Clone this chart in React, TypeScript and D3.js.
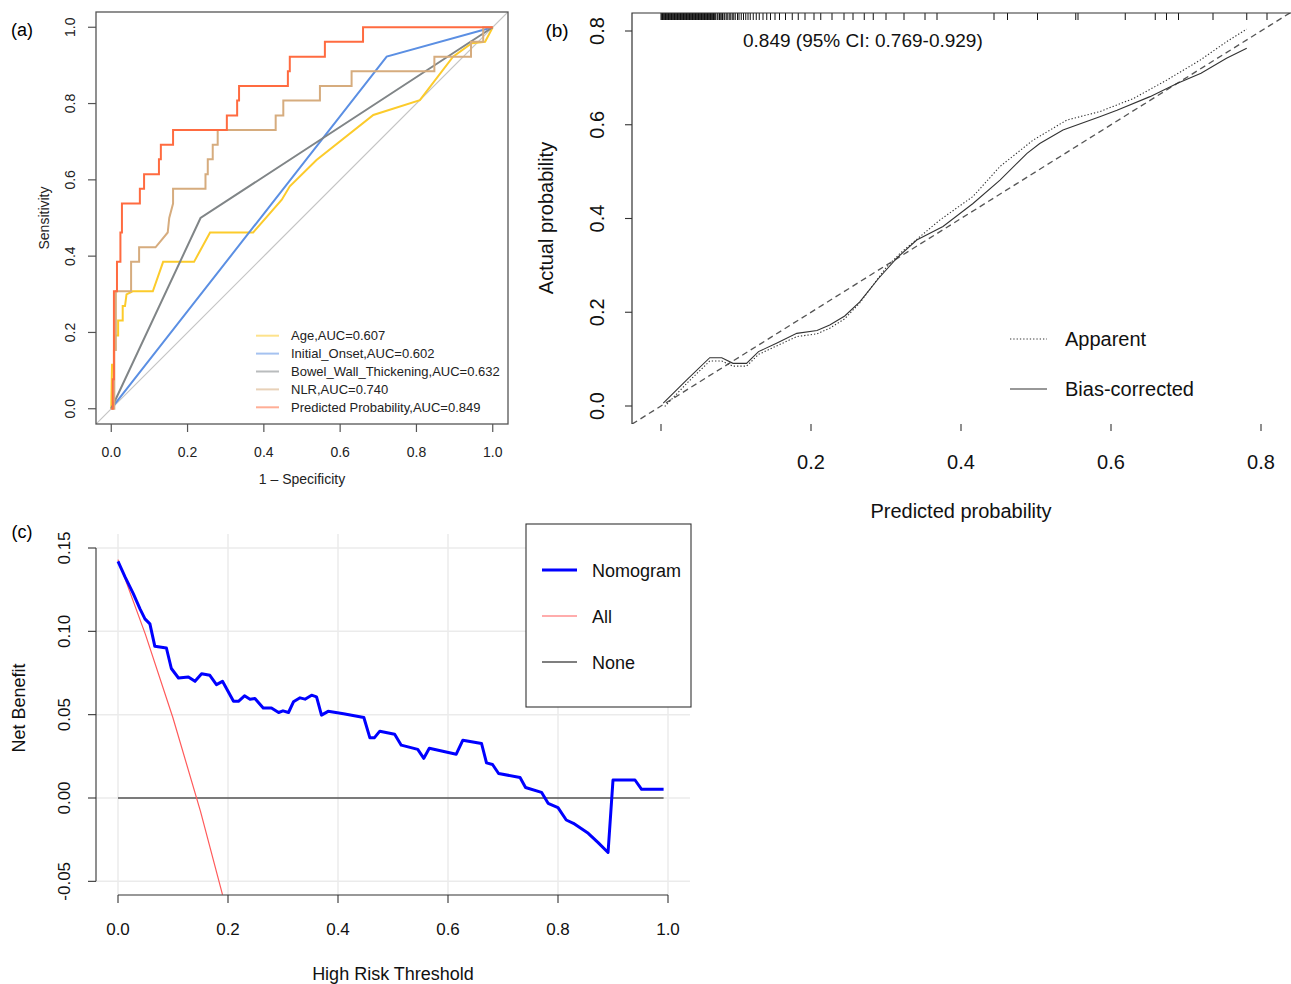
import React from "react";
import * as d3 from "d3";

const FONT = "'Liberation Sans', Arial, Helvetica, sans-serif";

// ---------- (a) ROC curves: [1 - specificity, sensitivity] ----------
const rocAge: [number, number][] = [
  [0, 0], [0.002, 0.115], [0.007, 0.115], [0.007, 0.154], [0.01, 0.192], [0.018, 0.192],
  [0.018, 0.231], [0.03, 0.231], [0.03, 0.269], [0.036, 0.269], [0.04, 0.3], [0.056, 0.308],
  [0.109, 0.308], [0.136, 0.385], [0.217, 0.385], [0.259, 0.462], [0.372, 0.462],
  [0.447, 0.548], [0.468, 0.583], [0.538, 0.652], [0.687, 0.77], [0.809, 0.809],
  [0.896, 0.923], [0.945, 0.958], [0.98, 0.962], [1, 1],
];
const rocOnset: [number, number][] = [[0, 0], [0.722, 0.923], [1, 1]];
const rocBowel: [number, number][] = [[0, 0], [0.234, 0.5], [1, 1]];
const rocNLR: [number, number][] = [
  [0, 0], [0.008, 0], [0.008, 0.154], [0.012, 0.154], [0.012, 0.308], [0.052, 0.308],
  [0.052, 0.385], [0.073, 0.385], [0.073, 0.423], [0.116, 0.423], [0.13, 0.44], [0.148, 0.462],
  [0.152, 0.5], [0.162, 0.538], [0.162, 0.577], [0.247, 0.577], [0.247, 0.615], [0.253, 0.615],
  [0.253, 0.654], [0.266, 0.654], [0.266, 0.692], [0.279, 0.692], [0.279, 0.731], [0.431, 0.731],
  [0.431, 0.769], [0.451, 0.769], [0.451, 0.808], [0.547, 0.808], [0.547, 0.846], [0.63, 0.846],
  [0.63, 0.885], [0.847, 0.885], [0.847, 0.923], [0.943, 0.923], [0.943, 0.962], [0.975, 0.962],
  [0.975, 1], [1, 1],
];
const rocPred: [number, number][] = [
  [0, 0], [0.004, 0], [0.004, 0.077], [0.007, 0.077], [0.007, 0.308], [0.015, 0.308],
  [0.015, 0.385], [0.024, 0.385], [0.024, 0.462], [0.028, 0.462], [0.028, 0.538], [0.075, 0.538],
  [0.075, 0.577], [0.086, 0.577], [0.086, 0.615], [0.125, 0.615], [0.125, 0.654], [0.13, 0.654],
  [0.13, 0.692], [0.162, 0.692], [0.162, 0.731], [0.303, 0.731], [0.303, 0.769], [0.33, 0.769],
  [0.33, 0.808], [0.335, 0.808], [0.335, 0.846], [0.463, 0.846], [0.463, 0.885], [0.468, 0.885],
  [0.468, 0.923], [0.56, 0.923], [0.56, 0.962], [0.66, 0.962], [0.66, 1], [1, 1],
];
const rocNames = [
  "Age,AUC=0.607",
  "Initial_Onset,AUC=0.602",
  "Bowel_Wall_Thickening,AUC=0.632",
  "NLR,AUC=0.740",
  "Predicted Probability,AUC=0.849",
];
const rocColors = ["#FCCB2B", "#5B8FE3", "#808587", "#D6AC7E", "#FF6B40"];
const rocCurves = [rocAge, rocOnset, rocBowel, rocNLR, rocPred];
const ticksA = [0, 0.2, 0.4, 0.6, 0.8, 1.0];

// ---------- (b) calibration ----------
const calApparent: [number, number][] = [
  [0.005, -0.001], [0.036, 0.051], [0.065, 0.096], [0.081, 0.096], [0.096, 0.085], [0.114, 0.085],
  [0.13, 0.11], [0.154, 0.128], [0.181, 0.148], [0.208, 0.154], [0.225, 0.166], [0.245, 0.186],
  [0.265, 0.22], [0.301, 0.297], [0.319, 0.326], [0.372, 0.397], [0.416, 0.447], [0.452, 0.511],
  [0.496, 0.567], [0.541, 0.61], [0.585, 0.628], [0.63, 0.656], [0.674, 0.695], [0.719, 0.738],
  [0.754, 0.777], [0.781, 0.804],
];
const calBias: [number, number][] = [
  [0.003, 0.006], [0.034, 0.055], [0.065, 0.103], [0.081, 0.103], [0.096, 0.091], [0.114, 0.091],
  [0.13, 0.116], [0.154, 0.134], [0.181, 0.155], [0.208, 0.161], [0.225, 0.173], [0.245, 0.192],
  [0.265, 0.222], [0.29, 0.272], [0.314, 0.315], [0.341, 0.354], [0.376, 0.383], [0.416, 0.432],
  [0.452, 0.482], [0.488, 0.539], [0.505, 0.56], [0.536, 0.589], [0.585, 0.617], [0.608, 0.631],
  [0.652, 0.66], [0.688, 0.688], [0.72, 0.71], [0.754, 0.742], [0.781, 0.763],
];
const rugValues = [
  0.0, 0.001, 0.002, 0.003, 0.004, 0.005, 0.006, 0.007, 0.008, 0.009, 0.010, 0.011, 0.012,
  0.013, 0.014, 0.015, 0.016, 0.017, 0.018, 0.019, 0.020, 0.021, 0.022, 0.023, 0.024, 0.025,
  0.026, 0.027, 0.028, 0.029, 0.030, 0.031, 0.032, 0.033, 0.034, 0.035, 0.036, 0.037, 0.038,
  0.039, 0.040, 0.041, 0.042, 0.043, 0.044, 0.045, 0.046, 0.047, 0.048, 0.049, 0.050, 0.051,
  0.052, 0.053, 0.054, 0.055, 0.056, 0.057, 0.058, 0.059, 0.060, 0.061, 0.062, 0.063, 0.064,
  0.065, 0.066, 0.067, 0.068, 0.069, 0.070, 0.071, 0.072, 0.073, 0.075, 0.076, 0.078, 0.079,
  0.081, 0.082, 0.084, 0.085, 0.087, 0.089, 0.091, 0.093, 0.095, 0.097, 0.099, 0.102, 0.104,
  0.107, 0.110, 0.113, 0.116, 0.119, 0.123, 0.127, 0.131, 0.136, 0.141, 0.146, 0.152, 0.158,
  0.166, 0.175, 0.183, 0.192, 0.204, 0.213, 0.228, 0.244, 0.256, 0.271, 0.283, 0.3, 0.324,
  0.352, 0.368, 0.444, 0.462, 0.502, 0.553, 0.556, 0.619, 0.659, 0.674, 0.69, 0.736, 0.781, 0.808,
];
const ticksBX = [0, 0.2, 0.4, 0.6, 0.8];
const ticksBY = [0, 0.2, 0.4, 0.6, 0.8];
const calText = "0.849 (95% CI: 0.769-0.929)";

// ---------- (c) decision curve ----------
const dcaNomogram: [number, number][] = [
  [0, 0.142], [0.013, 0.1325], [0.028, 0.1225], [0.04, 0.1135], [0.049, 0.1075], [0.058, 0.1045],
  [0.067, 0.091], [0.088, 0.09], [0.097, 0.0777], [0.11, 0.072], [0.128, 0.0726], [0.14, 0.07],
  [0.152, 0.0746], [0.167, 0.0736], [0.179, 0.068], [0.19, 0.07], [0.21, 0.058], [0.219, 0.058],
  [0.23, 0.0613], [0.24, 0.0593], [0.249, 0.0597], [0.264, 0.054], [0.279, 0.054], [0.292, 0.0513],
  [0.3, 0.0523], [0.31, 0.0513], [0.319, 0.0577], [0.331, 0.0601], [0.34, 0.0593], [0.352, 0.0617],
  [0.361, 0.0607], [0.37, 0.0497], [0.382, 0.052], [0.41, 0.0505], [0.447, 0.0483], [0.458, 0.0361],
  [0.466, 0.0361], [0.476, 0.0401], [0.503, 0.0383], [0.515, 0.0317], [0.545, 0.0292],
  [0.556, 0.0238], [0.566, 0.0298], [0.615, 0.0263], [0.627, 0.0347], [0.661, 0.0327],
  [0.67, 0.0211], [0.681, 0.0201], [0.692, 0.0147], [0.731, 0.0123], [0.741, 0.0063],
  [0.77, 0.0034], [0.782, -0.0032], [0.8, -0.0058], [0.815, -0.0132], [0.828, -0.0152],
  [0.855, -0.0212], [0.873, -0.0268], [0.891, -0.0327], [0.9, 0.0108], [0.94, 0.0108],
  [0.952, 0.0052], [0.992, 0.0052],
];
const dcaAll: [number, number][] = [
  [0, 0.143], [0.05, 0.098], [0.1, 0.048], [0.15, -0.008], [0.19, -0.058],
];
const dcaNone: [number, number][] = [[0, 0], [0.992, 0]];
const ticksCX = [0, 0.2, 0.4, 0.6, 0.8, 1.0];
const ticksCY = [-0.05, 0, 0.05, 0.1, 0.15];
const dcaLegend = ["Nomogram", "All", "None"];

export default function App() {
  // (a)
  const xA = d3.scaleLinear().domain([-0.04, 1.04]).range([96, 508]);
  const yA = d3.scaleLinear().domain([-0.04, 1.04]).range([424, 12]);
  const lineA = d3.line<[number, number]>().x((d) => xA(d[0])).y((d) => yA(d[1]));

  // (b)
  const xB = d3.scaleLinear().domain([0, 0.8]).range([661, 1261]);
  const yB = d3.scaleLinear().domain([0, 0.8]).range([406, 31]);
  const lineB = d3.line<[number, number]>().x((d) => xB(d[0])).y((d) => yB(d[1]));
  const bLeft = 632, bTop = 13, bBottom = 424;
  const diagB: [number, number][] = [
    [xB.invert(bLeft), xB.invert(bLeft)],
    [xB.invert(1300), xB.invert(1300)],
  ];

  // (c)
  const xC = d3.scaleLinear().domain([0, 1]).range([118, 668]);
  const yC = d3.scaleLinear().domain([0, 0.15]).range([798, 548]);
  const lineC = d3.line<[number, number]>().x((d) => xC(d[0])).y((d) => yC(d[1]));
  const cL = 96, cR = 690, cT = 534, cB = 895;

  const fmt1 = d3.format(".1f");
  const fmt2 = (v: number) => v.toFixed(2);

  return (
    <svg
      width={1291}
      height={984}
      style={{ position: "absolute", left: 0, top: 0, background: "#fff" }}
      fontFamily={FONT}
    >
      <defs>
        <clipPath id="clipA">
          <rect x={96} y={12} width={412} height={412} />
        </clipPath>
        <clipPath id="clipB">
          <rect x={bLeft} y={bTop} width={700} height={bBottom - bTop} />
        </clipPath>
        <clipPath id="clipC">
          <rect x={cL} y={cT} width={cR - cL} height={cB - cT} />
        </clipPath>
      </defs>
      <rect width={1291} height={984} fill="#fff" />

      {/* ===== (a) ===== */}
      <text x={22} y={36} fontSize={18} textAnchor="middle">(a)</text>
      <g clipPath="url(#clipA)">
        <path d={lineA([[-0.04, -0.04], [1.04, 1.04]]) || ""} stroke="#C4C4C4" strokeWidth={1.2} fill="none" />
        {rocCurves.map((c, i) => (
          <path key={i} d={lineA(c) || ""} stroke={rocColors[i]} strokeWidth={2} fill="none" />
        ))}
      </g>
      <rect x={96} y={12} width={412} height={412} fill="none" stroke="#555" strokeWidth={1.3} />
      {ticksA.map((t) => (
        <g key={"ax" + t}>
          <line x1={xA(t)} x2={xA(t)} y1={424} y2={432} stroke="#555" strokeWidth={1.2} />
          <text x={xA(t)} y={457} fontSize={14} textAnchor="middle" fill="#222">{fmt1(t)}</text>
          <line x1={88} x2={96} y1={yA(t)} y2={yA(t)} stroke="#555" strokeWidth={1.2} />
          <text transform={`translate(75,${yA(t)}) rotate(-90)`} fontSize={14} textAnchor="middle" fill="#222">
            {fmt1(t)}
          </text>
        </g>
      ))}
      <text x={302} y={484} fontSize={14} textAnchor="middle" fill="#222">1 – Specificity</text>
      <text transform="translate(49,218) rotate(-90)" fontSize={14} textAnchor="middle" fill="#222">Sensitivity</text>
      {rocNames.map((n, i) => {
        const y = 335.7 + i * 17.9;
        return (
          <g key={n}>
            <line x1={256} x2={279} y1={y} y2={y} stroke={rocColors[i]} strokeOpacity={0.55} strokeWidth={2} />
            <text x={291} y={y + 4.5} fontSize={13} fill="#222">{n}</text>
          </g>
        );
      })}

      {/* ===== (b) ===== */}
      <text x={557} y={37} fontSize={19} textAnchor="middle">(b)</text>
      <g clipPath="url(#clipB)">
        <path d={lineB(diagB) || ""} stroke="#555" strokeWidth={1.3} strokeDasharray="6,4" fill="none" />
        <path d={lineB(calApparent) || ""} stroke="#333" strokeWidth={1.1} strokeDasharray="1.3,2" fill="none" />
        <path d={lineB(calBias) || ""} stroke="#333" strokeWidth={1.1} fill="none" />
        {rugValues.map((v, i) => (
          <line key={i} x1={xB(v)} x2={xB(v)} y1={bTop} y2={bTop + 7} stroke="#111" strokeWidth={1} />
        ))}
      </g>
      <path d={`M1292,${bTop}H${bLeft}V${bBottom}`} stroke="#333" strokeWidth={1.2} fill="none" />
      {ticksBX.map((t) => (
        <g key={"bx" + t}>
          <line x1={xB(t)} x2={xB(t)} y1={bBottom} y2={bBottom + 7} stroke="#333" strokeWidth={1.1} />
          {t > 0 && (
            <text x={xB(t)} y={469} fontSize={20} textAnchor="middle" fill="#111">{fmt1(t)}</text>
          )}
        </g>
      ))}
      {ticksBY.map((t) => (
        <g key={"by" + t}>
          <line x1={bLeft - 7} x2={bLeft} y1={yB(t)} y2={yB(t)} stroke="#333" strokeWidth={1.1} />
          <text transform={`translate(604,${yB(t)}) rotate(-90)`} fontSize={20} textAnchor="middle" fill="#111">
            {fmt1(t)}
          </text>
        </g>
      ))}
      <text x={743} y={47} fontSize={19} fill="#111">{calText}</text>
      <text x={961} y={518} fontSize={20} textAnchor="middle" fill="#111">Predicted probability</text>
      <text transform="translate(553,218) rotate(-90)" fontSize={20} textAnchor="middle" fill="#111">
        Actual probability
      </text>
      <line x1={1010} x2={1047} y1={339} y2={339} stroke="#333" strokeWidth={1.1} strokeDasharray="1.3,2" />
      <text x={1065} y={346} fontSize={20} fill="#111">Apparent</text>
      <line x1={1010} x2={1047} y1={389} y2={389} stroke="#333" strokeWidth={1.1} />
      <text x={1065} y={396} fontSize={20} fill="#111">Bias-corrected</text>

      {/* ===== (c) ===== */}
      <text x={22} y={538} fontSize={18} textAnchor="middle">(c)</text>
      <g>
        {ticksCX.map((t) => (
          <line key={"gx" + t} x1={xC(t)} x2={xC(t)} y1={cT} y2={cB} stroke="#EBEBEB" strokeWidth={1.5} />
        ))}
        {ticksCY.map((t) => (
          <line key={"gy" + t} x1={cL} x2={cR} y1={yC(t)} y2={yC(t)} stroke="#EBEBEB" strokeWidth={1.5} />
        ))}
      </g>
      <g clipPath="url(#clipC)">
        <path d={lineC(dcaNone) || ""} stroke="#555" strokeWidth={1.4} fill="none" />
        <path d={lineC(dcaAll) || ""} stroke="#FF5A5A" strokeWidth={1.2} fill="none" />
        <path d={lineC(dcaNomogram) || ""} stroke="#0000FF" strokeWidth={3} fill="none" strokeLinejoin="round" />
      </g>
      <line x1={cL} x2={cL} y1={yC(0.15)} y2={yC(-0.05)} stroke="#333" strokeWidth={1.1} />
      <line x1={xC(0)} x2={xC(1)} y1={cB} y2={cB} stroke="#333" strokeWidth={1.1} />
      {ticksCX.map((t) => (
        <g key={"cx" + t}>
          <line x1={xC(t)} x2={xC(t)} y1={cB} y2={cB + 8} stroke="#333" strokeWidth={1.1} />
          <text x={xC(t)} y={935} fontSize={17} textAnchor="middle" fill="#111">{fmt1(t)}</text>
        </g>
      ))}
      {ticksCY.map((t) => (
        <g key={"cy" + t}>
          <line x1={cL - 8} x2={cL} y1={yC(t)} y2={yC(t)} stroke="#333" strokeWidth={1.1} />
          <text transform={`translate(70,${yC(t)}) rotate(-90)`} fontSize={17} textAnchor="middle" fill="#111">
            {fmt2(t)}
          </text>
        </g>
      ))}
      <text x={393} y={979.5} fontSize={18} textAnchor="middle" fill="#111">High Risk Threshold</text>
      <text transform="translate(24.5,708) rotate(-90)" fontSize={18} textAnchor="middle" fill="#111">
        Net Benefit
      </text>
      <rect x={526} y={524} width={165} height={183} fill="#fff" stroke="#333" strokeWidth={1.1} />
      {dcaLegend.map((n, i) => {
        const y = 570 + i * 46;
        const col = ["#0000FF", "#FF5A5A", "#555"][i];
        const w = [3, 1.2, 1.4][i];
        return (
          <g key={n}>
            <line x1={542} x2={577} y1={y} y2={y} stroke={col} strokeWidth={w} />
            <text x={592} y={y + 6.5} fontSize={18} fill="#111">{n}</text>
          </g>
        );
      })}
    </svg>
  );
}
